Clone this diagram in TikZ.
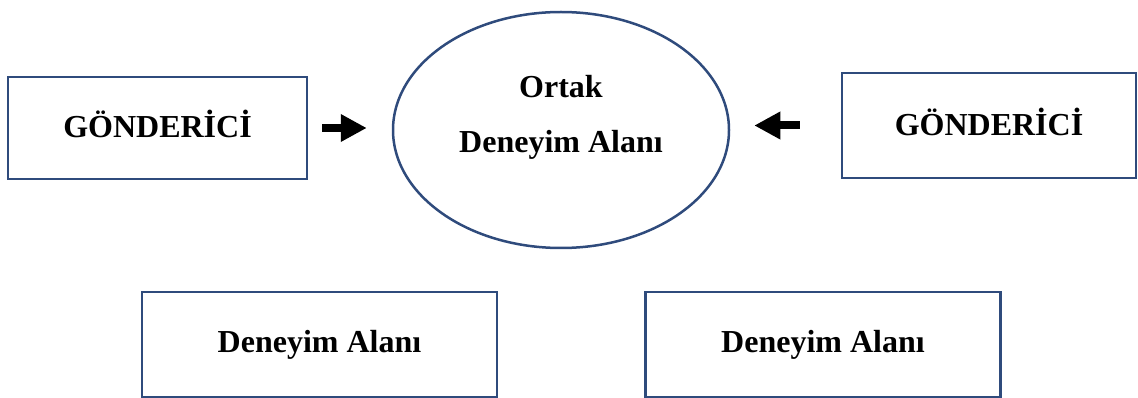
\documentclass[tikz,border=0pt]{standalone}
\usepackage{fontspec}
\setmainfont{Liberation Serif}
\usepackage{tikz}
\usetikzlibrary{arrows.meta}
\usetikzlibrary{shapes.geometric}
\definecolor{kenar}{HTML}{2F4B7C}

\begin{document}
\begin{tikzpicture} [x=1pt, y=-1pt,
  yazi/.style={inner sep=0, font=\fontsize{32}{55}\selectfont\bfseries},
  kutu/.style={yazi, draw=kenar, line width=2.5pt},
  okblok/.style={black, line width=8pt, -{Triangle[length=26pt, width=26pt]}}]
\useasboundingbox (0,0) rectangle (1138,398);

\node[kutu, minimum width=299pt, minimum height=102pt, text depth=8pt] (gon1) at (157.5,128) {GÖNDERİCİ};
\node[kutu, minimum width=294pt, minimum height=105pt, text depth=8pt] (gon2) at (989,125.5) {GÖNDERİCİ};
\node[kutu, ellipse, minimum width=336pt, minimum height=236pt] (ortak) at (561,130) {};
\node[yazi, align=center] (ortakyazi) at ([yshift=13pt]ortak.center) {Ortak\\Deneyim Alanı};

\foreach \x/\isim in {319.5/alan1, 823/alan2} {
  \node[kutu, minimum width=355pt, minimum height=105pt] (\isim) at (\x,344.5) {Deneyim Alanı};
}

\draw[okblok, shorten <=14pt, shorten >=25pt] (gon1.east) -- (gon1.east -| ortak.west);
\draw[okblok, shorten <=41pt, shorten >=24pt] (gon2.west) -- (gon2.west -| ortak.east);
\end{tikzpicture}
\end{document}
